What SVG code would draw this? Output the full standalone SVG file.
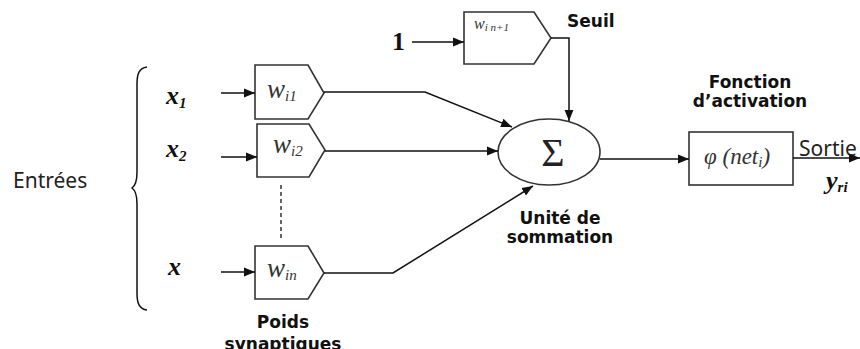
<svg xmlns="http://www.w3.org/2000/svg" width="860" height="349" viewBox="0 0 860 349">
  <style>
    .ln { fill: none; stroke: #111; stroke-width: 1.5; }
    .dash { fill: none; stroke: #333; stroke-width: 1.5; stroke-dasharray: 4 3; }
    .shape { fill: #fff; stroke: #333; stroke-width: 1.6; }
    .lbl { font-family: "DejaVu Sans", Verdana, sans-serif; font-weight: bold; font-size: 17px; fill: #111; }
    .plain { font-family: "Noto Sans", "DejaVu Sans", sans-serif; font-size: 21px; fill: #222; }
    .var { font-family: "Liberation Serif", "Times New Roman", serif; font-style: italic; font-weight: bold; font-size: 26px; fill: #111; }
    .w { font-family: "Liberation Serif", "Times New Roman", serif; font-style: italic; font-size: 27px; fill: #333; }
    .sub { font-size: 15px; }
  </style>
  <defs>
    <marker id="arr" viewBox="0 0 10 10" refX="10" refY="5" markerWidth="11" markerHeight="11" markerUnits="userSpaceOnUse" orient="auto">
      <path d="M0,1 L10,5 L0,9 Z" fill="#111"/>
    </marker>
  </defs>

  <!-- inputs label and brace -->
  <g id="inputs">
    <text class="plain" x="13" y="188">Entrées</text>
    <path class="ln" d="M147,67 C139,68 137,74 137,84 L137,172 C137,182 135,186 132,188 C135,190 137,194 137,204 L137,293 C137,303 139,309 147,310"/>
    <text class="var" x="166" y="104">x<tspan class="sub" dy="4">1</tspan></text>
    <text class="var" x="166" y="157">x<tspan class="sub" dy="4">2</tspan></text>
    <text class="var" x="168" y="275">x</text>
  </g>

  <!-- synaptic weights -->
  <g id="w1">
    <path class="shape" d="M255,65 H308 L324,93 L308,119 H255 Z"/>
    <text class="w" x="267" y="98">w<tspan class="sub" dy="3">i1</tspan></text>
  </g>
  <g id="w2">
    <path class="shape" d="M257,124 H309 L325,150 L309,177 H257 Z"/>
    <text class="w" x="273" y="153">w<tspan class="sub" dy="3">i2</tspan></text>
  </g>
  <line class="dash" x1="281" y1="185" x2="281" y2="238"/>
  <g id="wn">
    <path class="shape" d="M255,246 H308 L324,273 L308,299 H255 Z"/>
    <text class="w" x="267" y="277">w<tspan class="sub" dy="3">in</tspan></text>
  </g>
  <g id="bias">
    <text class="var" x="392" y="50" style="font-style:normal">1</text>
    <path class="shape" d="M464,12 H534 L551,38 L534,64 H464 Z"/>
    <text class="w" x="474" y="29" style="font-size:16px">w<tspan style="font-size:11px" dy="2">i n+1</tspan></text>
    <text class="lbl" x="567" y="27">Seuil</text>
  </g>
  <g id="weights-label">
    <text class="lbl" x="283" y="328" text-anchor="middle">Poids</text>
    <text class="lbl" x="283" y="350" text-anchor="middle">synaptiques</text>
  </g>

  <!-- summation unit -->
  <g id="sum">
    <ellipse class="shape" cx="549" cy="152" rx="51" ry="33"/>
    <text x="553" y="166" text-anchor="middle" style="font-family:'Liberation Serif',serif;font-size:40px;fill:#222">Σ</text>
    <text class="lbl" x="560" y="224" text-anchor="middle">Unité de</text>
    <text class="lbl" x="560" y="243" text-anchor="middle">sommation</text>
  </g>

  <!-- activation function -->
  <g id="activation">
    <text class="lbl" x="750" y="88" text-anchor="middle">Fonction</text>
    <text class="lbl" x="750" y="107" text-anchor="middle">d’activation</text>
    <rect class="shape" x="689" y="132" width="104" height="53"/>
    <text class="w" x="704" y="164" style="font-size:23px">φ (net<tspan class="sub" dy="3">i</tspan><tspan dy="-3">)</tspan></text>
  </g>

  <!-- output -->
  <g id="output">
    <text class="plain" x="799" y="156">Sortie</text>
    <text class="var" x="826" y="189">y<tspan class="sub" dy="3">ri</tspan></text>
  </g>

  <!-- connectors -->
  <g id="connectors">
    <line class="ln" x1="221" y1="93" x2="255" y2="93" marker-end="url(#arr)"/>
    <line class="ln" x1="221" y1="157" x2="257" y2="157" marker-end="url(#arr)"/>
    <line class="ln" x1="221" y1="272" x2="255" y2="272" marker-end="url(#arr)"/>
    <line class="ln" x1="412" y1="42" x2="464" y2="42" marker-end="url(#arr)"/>
    <path class="ln" d="M324,92 H425 L512,127" marker-end="url(#arr)"/>
    <path class="ln" d="M325,151 H498" marker-end="url(#arr)"/>
    <path class="ln" d="M324,273 H393 L533,186" marker-end="url(#arr)"/>
    <path class="ln" d="M551,38 H569 V121" marker-end="url(#arr)"/>
    <path class="ln" d="M600,159 H689" marker-end="url(#arr)"/>
    <path class="ln" d="M793,158 H860" marker-end="url(#arr)"/>
  </g>
</svg>
